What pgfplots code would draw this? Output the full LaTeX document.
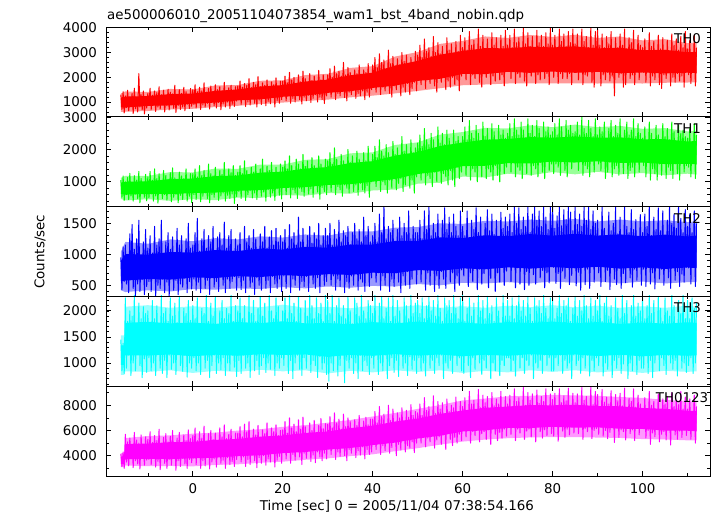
\documentclass[border=0pt]{standalone}
\usepackage{fontspec}
\setmainfont{DejaVu Sans}
\usepackage{pgfplots}
\usepackage{pgfplotstable}
\pgfplotsset{compat=1.18}
\definecolor{qr}{RGB}{255,0,0}
\definecolor{qg}{RGB}{0,255,0}
\definecolor{qb}{RGB}{0,0,255}
\definecolor{qc}{RGB}{0,255,255}
\definecolor{qm}{RGB}{255,0,255}
\newcommand{\lab}{\fontsize{13.4}{16}\selectfont}
\pgfplotsset{
 panel/.style={
  scale only axis, width=604pt,
  xmin=-19.3, xmax=115,
  xtick={0,20,...,100}, minor xtick={-10,10,...,110},
  tick align=inside, tick pos=both,
  major tick length=5pt, minor tick length=3pt,
  axis line style={line width=0.9pt, black},
  major tick style={black, line width=0.8pt},
  minor tick style={black, line width=0.6pt},
  tick label style={font=\lab},
  /pgf/number format/assume math mode=true,
  /pgf/number format/1000 sep={},
  scaled ticks=false,
  yticklabel style={xshift=-5.5pt},
  xticklabel style={yshift=-4.5pt},
  axis on top=true,
  clip=true,
 },
 zz/.style={line width=1.0pt, line join=round},
 halo/.style={fill=#1, fill opacity=0.4, draw=none, forget plot},
 core/.style={fill=#1, draw=none, forget plot},
}
\pgfplotstableread{
t a b c d e
-16 1300 1050 950 1450 4150
-15.75 700 520 430 850 3150
-15.5 1420 1180 1120 1380 4300
-15.25 560 420 560 800 3000
-15 1250 1000 1150 2250 5700
-14.75 780 600 520 900 3500
-14.5 1480 1130 1000 1800 5100
-14.25 650 450 380 1150 3200
-14 1200 1260 1330 2000 5400
-13.75 820 560 600 760 3750
-13.5 1350 980 1480 1900 4900
-13.25 540 400 450 1000 3050
-13 1560 1190 1080 2300 5850
-12.75 730 620 330 850 3600
-12.5 1180 1050 1250 1720 5250
-12.25 600 480 520 1200 3350
-12 2150 1320 1550 2150 5000
-11.75 800 350 400 950 2950
-11.5 1300 1100 960 1850 5650
-11.25 690 650 590 720 3850
-11 1450 960 1200 2080 4800
-10.75 520 520 350 1080 3250
-10.5 1220 1230 1400 1950 5500
-10.25 760 410 480 820 3650
-10 1350 1150 1100 2000 5300
-9.75 880 500 560 1100 3700
-9.5 1560 1320 1300 1750 5900
-9.25 700 620 400 850 3300
-9 1280 1050 1020 2200 5050
-8.75 930 400 620 1000 3850
-8.5 1450 1400 1450 1850 5600
-8.25 620 560 330 760 3100
-8 1380 1100 1150 2100 5200
-7.75 800 340 500 1200 3550
-7.5 1620 1250 1250 1700 6100
-7.25 720 680 450 900 2900
-7 1300 1000 1550 2300 4950
-6.75 900 480 600 800 3800
-6.5 1480 1350 980 1950 5450
-6.25 600 600 380 1050 3400
-6 1250 1200 1200 2050 5750
-5.75 850 430 550 720 3000
-5.5 1520 1080 1350 1800 5100
-5.25 680 650 320 1150 3700
-5 1400 1280 1080 2250 5550
-4.75 940 380 640 880 3250
-4.5 1330 1430 1280 1900 6000
-4.25 750 520 420 1000 3900
-4 1680 1120 1000 2150 5000
-3.75 580 610 580 780 2850
-3.5 1270 1020 1420 1780 5400
-3.25 860 350 350 1220 3600
-3 1500 1300 1150 2280 5850
-2.75 700 580 520 950 3150
-2.5 1350 1180 1300 1680 4900
-2.25 800 450 470 840 3800
-2 1600 1100 960 2050 5650
-1.75 650 680 610 1150 3350
-1.5 1420 1400 1250 1950 5200
-1.25 910 400 380 730 3000
-1 1300 1050 1500 2200 6050
-0.75 740 550 560 1000 3700
-0.5 1550 1250 1100 1820 5350
-0.25 830 360 440 900 3450
0 1500 1250 1150 2100 5600
0.25 900 600 600 1100 3800
0.5 1700 1400 1350 1850 6200
0.75 760 450 420 850 3300
1 1420 1150 1580 2250 5200
1.25 1000 700 550 1000 4000
1.5 1600 1500 1050 1750 5900
1.75 700 380 380 780 3000
2 1450 1200 1250 2050 5400
2.25 880 550 650 1200 3600
2.5 1780 1350 1400 1950 6350
2.75 800 650 450 900 3200
3 1400 1100 1100 2300 5100
3.25 950 480 580 1050 3900
3.5 1550 1550 1300 1800 5750
3.75 720 350 350 720 2950
4 1650 1250 1200 2150 6000
4.25 1050 600 620 950 3500
4.5 1380 1180 1450 1900 5300
4.75 850 520 470 1150 3750
5 1700 1450 1000 2280 5800
5.25 760 700 560 800 3100
5.5 1500 1100 1280 1700 5150
5.75 980 420 400 1000 4050
6 1620 1350 1350 2000 6200
6.25 690 560 680 870 3400
6.5 1450 1230 1150 2200 5500
6.75 920 650 500 1100 3650
7 1800 1600 1520 1850 6450
7.25 800 400 380 760 3000
7.5 1400 1150 1100 2050 5350
7.75 1000 580 600 1000 3850
8 1580 1400 1300 1950 5700
8.25 740 480 450 850 3300
8.5 1680 1280 1400 2300 6100
8.75 900 620 560 1150 3550
9 1480 1500 1050 1800 5050
9.25 820 330 640 920 3150
9.5 1620 1200 1250 2100 5800
9.75 1040 540 420 740 3700
10 1650 1300 1150 2000 5800
10.25 1100 700 620 1050 4100
10.5 1850 1500 1350 2250 6300
10.75 900 480 430 800 3500
11 1600 1250 1050 1850 5500
11.25 1150 780 580 1150 3900
11.5 1750 1650 1450 2100 6500
11.75 820 420 380 900 3150
12 1680 1350 1200 1750 5900
12.25 1000 600 680 1000 3700
12.5 1950 1200 1300 2300 6700
12.75 880 720 470 720 3300
13 1580 1450 1100 1950 5350
13.25 1200 500 550 1200 4200
13.5 1800 1300 1400 2200 6100
13.75 950 650 350 850 3600
14 1700 1550 1250 1800 5650
14.25 800 450 620 1050 3050
14.5 2030 1250 1050 2050 6400
14.75 1080 800 500 780 3850
15 1620 1400 1330 2280 5450
15.25 900 550 420 950 3400
15.5 1780 1700 1200 1900 6050
15.75 1150 680 700 1100 4000
16 1680 1220 1450 2150 5750
16.25 850 400 450 820 3250
16.5 1900 1480 1100 1700 6600
16.75 1020 750 580 1000 3750
17 1560 1350 1280 2300 5300
17.25 930 520 380 880 3500
17.5 1820 1600 1380 2000 6200
17.75 1180 650 640 1180 4250
18 1700 1280 1150 1850 5900
18.25 800 420 520 760 3100
18.5 1980 1450 1420 2250 6450
18.75 1050 780 450 1000 3650
19 1620 1200 1200 2080 5600
19.25 950 580 600 900 3950
19.5 1850 1550 1300 1780 6000
19.75 1100 470 400 1100 3400
20 1850 1450 1200 2000 6050
20.25 1250 850 650 950 4400
20.5 2050 1650 1400 2250 6700
20.75 1050 600 450 1200 3750
21 1780 1400 1100 1850 5800
21.25 1300 900 700 800 4300
21.5 2200 1800 1480 2300 7000
21.75 950 500 380 1050 3400
22 1900 1500 1250 1950 6200
22.25 1150 750 600 700 4100
22.5 2000 1350 1350 2150 6500
22.75 1000 650 500 1000 3650
23 1750 1700 1150 1800 5900
23.25 1350 480 660 1150 4500
23.5 2100 1550 1600 2280 6850
23.75 1100 800 420 880 3900
24 1820 1400 1200 2050 6100
24.25 920 700 560 760 3300
24.5 2250 1850 1420 1750 7050
24.75 1200 550 480 1100 4200
25 1950 1480 1100 2200 6300
25.25 1050 880 640 900 3800
25.5 1800 1650 1300 1900 5700
25.75 1280 620 400 1180 4450
26 2150 1380 1450 2300 6600
26.25 980 780 700 820 3550
26.5 1880 1750 1180 2100 6000
26.75 1150 520 520 1050 4050
27 2050 1500 1350 1850 6800
27.25 1300 900 450 950 3450
27.5 1780 1420 1250 2250 5850
27.75 1000 680 620 720 4300
28 2280 1800 1500 1950 6400
28.25 1200 460 380 1120 3900
28.5 1900 1550 1150 2150 6950
28.75 1100 820 680 880 3600
29 2100 1350 1300 1800 6150
29.25 940 700 500 1000 4200
29.5 1850 1700 1420 2300 6550
29.75 1250 600 560 780 3750
30 2100 1650 1300 2200 6500
30.25 1450 950 700 650 4600
30.5 2350 1900 1500 1950 7100
30.75 1200 700 500 1000 4100
31 2000 1550 1150 2300 6200
31.25 1500 1000 650 850 4800
31.5 2450 2050 1400 1800 7400
31.75 1100 600 420 1150 3700
32 2150 1700 1250 2100 6600
32.25 1350 850 600 750 4300
32.5 2250 1500 1550 2250 6900
32.75 1250 750 480 950 3950
33 2050 1850 1200 1900 6100
33.25 1550 550 720 1200 4700
33.5 2600 1650 1380 2100 7300
33.75 1180 900 380 620 4000
34 2100 1500 1300 1850 6300
34.25 1050 800 560 1050 3600
34.5 2400 2000 1450 2280 7000
34.75 1400 650 450 900 4500
35 2200 1600 1150 2000 6700
35.25 1300 1000 650 1100 4200
35.5 1980 1800 1350 1750 5950
35.75 1500 700 500 800 4850
36 2300 1550 1500 2250 6850
36.25 1150 900 740 1000 3850
36.5 2150 1950 1250 2150 6400
36.75 1350 580 420 700 4400
37 2500 1700 1400 1900 7200
37.25 1250 950 600 1150 4050
37.5 2050 1500 1200 2300 6200
37.75 1450 750 550 850 4700
38 2300 1900 1600 2000 6750
38.25 1100 650 400 1050 3750
38.5 2200 1650 1300 1850 7050
38.75 1400 880 700 950 4500
39 2550 2100 1450 2200 6450
39.25 1200 520 480 780 4100
39.5 2100 1600 1200 2100 6900
39.75 1500 1000 620 1100 4300
40 2500 1850 1300 1950 6900
40.25 1700 1100 750 900 5000
40.5 2800 2100 1500 2300 7500
40.75 1400 850 550 1200 4500
41 2400 1750 1200 1750 6600
41.25 1750 1200 700 780 5200
41.5 2950 2300 1650 2150 7900
41.75 1300 700 420 1000 4100
42 2600 1950 1350 2280 7100
42.25 1600 1000 650 850 4800
42.5 2700 1800 1800 1850 7300
42.75 1450 900 500 1150 4400
43 2350 2150 1250 2050 6500
43.25 1800 650 750 700 5300
43.5 3100 1900 1450 2250 8000
43.75 1350 1050 400 950 4200
44 2550 1700 1350 1800 6800
44.25 1200 800 600 1100 4650
44.5 2850 2250 1550 2300 7700
44.75 1650 1150 480 820 5100
45 2450 1850 1200 1900 6600
45.25 1500 750 700 1050 4000
45.5 2750 2050 1400 2200 7400
45.75 1700 950 550 740 4900
46 2500 1750 1600 2000 7000
46.25 1250 1100 380 1180 4450
46.5 3000 2400 1300 1700 7800
46.75 1600 700 650 900 5250
47 2650 1950 1500 2250 6750
47.25 1400 900 500 1000 4300
47.5 2900 2150 1350 2100 7600
47.75 1750 1200 720 760 4800
48 2450 1800 1700 1850 7050
48.25 1300 800 450 1120 4600
48.5 2800 2300 1250 2300 8050
48.75 1550 1050 600 880 5100
49 2600 1900 1450 1950 7200
49.25 1800 650 780 1050 4250
49.5 3050 2050 1350 2150 7500
49.75 1450 1150 520 800 5000
50 2900 2200 1350 2200 7400
50.25 2000 1350 750 1100 5600
50.5 3300 2450 1550 1950 8100
50.75 1700 1050 550 850 5000
51 2800 2100 1250 2250 7200
51.25 2100 1400 800 1000 5800
51.5 3550 2650 1700 1850 8600
51.75 1550 900 420 750 4700
52 3050 2300 1400 2100 7600
52.25 1900 1200 700 1150 5400
52.5 3200 2150 1800 2280 7900
52.75 1750 1100 500 900 5100
53 2850 2500 1300 2000 7150
53.25 2050 850 780 1050 5750
53.5 3650 2300 1500 2200 8750
53.75 1650 1300 400 800 4600
54 3000 2050 1350 1900 7350
54.25 1400 1000 650 1100 5250
54.5 3400 2700 1650 2300 8300
54.75 1950 1400 450 950 5500
55 2950 2200 1250 2050 7700
55.25 1800 950 720 1150 4900
55.5 3250 2500 1550 1800 8200
55.75 2100 1250 600 700 5650
56 2800 2150 1750 2250 7100
56.25 1500 1150 450 1000 4500
56.5 3600 2600 1400 2100 8500
56.75 1850 900 800 900 5800
57 3100 2350 1600 2200 7500
57.25 1600 1350 550 1050 5300
57.5 3350 2050 1350 1950 8000
57.75 2000 1050 700 800 4800
58 2950 2600 1650 2300 7800
58.25 1700 850 400 1150 5450
58.5 3450 2250 1450 2050 8650
58.75 1900 1450 650 950 5000
59 3050 2400 1300 1850 7300
59.25 1450 1100 500 1100 5700
59.5 3700 2200 1700 2250 8300
59.75 2050 1300 750 850 5200
60 3200 2400 1450 2300 7900
60.25 2250 1550 650 800 6100
60.5 3600 2700 1300 1800 8600
60.75 1900 1200 820 1150 5500
61 3100 2300 1700 2050 7600
61.25 2300 1600 480 950 6250
61.5 3850 2900 1250 2250 9100
61.75 1700 1050 700 720 5000
62 3300 2500 1550 1900 8100
62.25 2100 1400 560 1100 5900
62.5 3500 2350 1400 2150 8400
62.75 1950 1300 850 880 5600
63 3050 2750 1750 1750 7600
63.25 2250 1000 430 1200 6200
63.5 3950 2500 1350 2300 9250
63.75 1800 1500 760 1000 5100
64 3250 2250 1600 2000 7800
64.25 1600 1150 520 780 5750
64.5 3700 2850 1280 2200 8800
64.75 2150 1550 690 1050 5900
65 3150 2400 1500 1850 8200
65.25 2000 1100 840 900 5300
65.5 3550 2650 1720 2280 8700
65.75 2300 1400 460 1150 6050
66 3000 2300 1380 1950 7500
66.25 1700 1300 610 700 4900
66.5 3800 2800 1650 2100 9000
66.75 2050 1050 780 1000 6250
67 3300 2550 1320 1800 7950
67.25 1850 1500 400 850 5700
67.5 3600 2200 1550 2250 8500
67.75 2200 1200 700 1180 5200
68 3150 2750 1230 2000 8100
68.25 1900 1000 550 760 5850
68.5 3700 2450 1680 1700 9100
68.75 2100 1600 850 1050 5400
69 3250 2600 1420 2300 7700
69.25 1650 1250 500 950 6100
69.5 3900 2350 1600 1900 8700
69.75 2250 1450 730 1100 5550
70 3300 2500 1450 2200 8100
70.25 2300 1650 820 1100 6300
70.5 3700 2800 1650 1900 8800
70.75 1950 1300 560 850 5700
71 3200 2400 1350 2250 7900
71.25 2350 1700 860 1050 6400
71.5 3950 2950 1760 1850 9300
71.75 1750 1150 460 750 5200
72 3400 2600 1500 2100 8300
72.25 2150 1450 780 1150 6100
72.5 3600 2450 1750 2300 8600
72.75 2000 1350 520 900 5800
73 3150 2850 1400 2000 7800
73.25 2300 1100 840 1100 6400
73.5 4000 2600 1600 2200 9400
73.75 1850 1600 430 800 5300
74 3350 2350 1450 1900 8000
74.25 1650 1250 720 1050 5950
74.5 3800 2950 1770 2280 9000
74.75 2200 1650 500 950 6100
75 3250 2500 1350 2050 8400
75.25 2050 1200 800 1150 5500
75.5 3650 2750 1650 1800 8900
75.75 2350 1500 670 700 6250
76 3100 2400 1770 2250 7750
76.25 1750 1400 520 1000 5100
76.5 3900 2900 1550 2100 9200
76.75 2100 1150 860 900 6450
77 3400 2650 1700 2200 8150
77.25 1900 1600 620 1050 5900
77.5 3700 2300 1450 1950 8700
77.75 2250 1300 740 800 5400
78 3250 2850 1760 2300 8300
78.25 1950 1100 460 1150 6050
78.5 3800 2550 1600 2050 9300
78.75 2150 1700 700 950 5600
79 3350 2700 1400 1850 7900
79.25 1700 1350 540 1100 6300
79.5 4000 2450 1770 2250 8900
79.75 2300 1550 800 850 5750
80 3300 2550 1770 2250 8450
80.25 2000 1250 790 850 5550
80.5 3700 2800 1420 1850 8950
80.75 2400 1550 530 1100 6300
81 3100 2450 1620 2050 7800
81.25 1750 1450 690 950 5150
81.5 3950 2950 1770 2300 9300
81.75 2150 1200 450 1150 6500
82 3450 2700 1460 1950 8200
82.25 1950 1650 730 800 5950
82.5 3750 2350 1720 2200 8750
82.75 2200 1350 610 1050 5450
83 3250 2900 1560 2100 8350
83.25 1950 1150 850 900 6100
83.5 3850 2600 1770 2250 9350
83.75 2150 1750 510 1000 5650
84 3400 2750 1680 1800 7950
84.25 1700 1400 660 700 6350
84.5 3950 2500 1380 2050 8950
84.75 2300 1600 790 1150 5800
85 3350 2550 1770 2280 8200
85.25 2250 1700 490 950 6350
85.5 3750 2850 1480 1900 8900
85.75 1900 1350 710 1050 5750
86 3150 2450 1650 2200 7950
86.25 2350 1750 420 800 6450
86.5 3950 3000 1450 2000 9400
86.75 1700 1200 830 1100 5300
87 3450 2650 1770 2300 8400
87.25 2100 1500 510 900 6150
87.5 3650 2500 1550 2100 8700
87.75 2050 1400 760 1150 5900
88 3200 2900 1770 1850 7850
88.25 2300 1150 450 750 6400
88.5 4000 2650 1400 2250 9450
88.75 1800 1650 870 1050 5350
89 3300 2400 1700 1900 8050
89.25 1600 1300 550 850 6000
89.5 3850 2950 1500 2200 9100
89.75 2250 1700 800 1100 6150
90 3950 2450 1550 2000 8850
90.25 2250 1550 700 950 5700
90.5 3300 2700 1300 2300 7850
90.75 1650 1350 480 1150 6250
91 3750 2550 1770 1800 9250
91.25 2100 1700 820 750 5550
91.5 3200 2850 1420 2150 8250
91.75 1900 1100 560 1000 6000
92 3650 2300 1250 2280 8650
92.25 2200 1300 740 880 5350
92.5 3350 2650 1680 1900 8100
92.75 1850 1600 430 1200 5850
93 3850 2900 1380 2100 9150
93.25 2050 1150 860 720 6400
93.5 3050 2400 1500 1750 7700
93.75 1250 1400 600 1050 5050
94 3600 2750 1760 2250 8850
94.25 2300 1500 510 900 6200
94.5 3200 2500 1330 2050 8350
94.75 2000 1200 780 1100 5450
95 3750 2950 1600 1850 8950
95.25 2150 1650 450 800 6050
95.5 3300 2350 1270 2300 7950
95.75 1600 1250 690 980 5900
96 3950 2600 1770 1950 9350
96.25 1700 1600 540 1180 5250
96.5 3150 2850 1450 2200 7750
96.75 2250 1100 830 700 6300
97 3600 2450 1350 1700 8550
97.25 1950 1350 620 1000 5750
97.5 3400 2600 1720 2100 8300
97.75 2100 1450 470 850 6050
98 3900 2950 1400 2300 9300
98.25 1700 1150 760 1150 5200
98.5 3100 2400 1560 1900 7850
98.75 2300 1700 580 780 6350
99 3700 2800 1290 2150 8800
99.25 1900 1300 850 1050 5650
99.5 3300 2500 1640 2000 8100
99.75 2250 1650 500 900 6250
100 3200 2350 1350 2250 7700
100.25 2200 1500 760 900 6200
100.5 3550 2700 1650 1850 8600
100.75 1800 1150 480 1150 5400
101 3000 2250 1450 2100 7500
101.25 2300 1650 850 800 6000
101.5 3800 2850 1770 2300 9100
101.75 1650 1050 520 1050 4900
102 3250 2500 1300 1950 8000
102.25 2050 1400 700 720 5800
102.5 3450 2300 1600 2200 8300
102.75 1900 1250 440 1000 5500
103 3050 2750 1400 1750 7450
103.25 2250 1050 820 1200 6250
103.5 3700 2450 1750 2280 8900
103.75 1700 1550 600 850 5100
104 3150 2200 1380 2050 7650
104.25 1550 1200 760 1100 5700
104.5 3600 2800 1700 1800 8500
104.75 2100 1600 500 950 5900
105 3100 2400 1300 2250 8100
105.25 1950 1100 840 780 5250
105.5 3500 2650 1550 2000 8700
105.75 2200 1450 620 1150 6100
106 2950 2300 1770 1900 7500
106.25 1650 1350 450 1000 4850
106.5 3750 2850 1500 2300 9000
106.75 2000 1100 800 880 6150
107 3300 2550 1650 2100 7900
107.25 1800 1550 580 1050 5650
107.5 3550 2250 1420 1700 8400
107.75 2150 1250 720 750 5300
108 3100 2750 1770 2200 8050
108.25 1850 1050 480 1180 5950
108.5 3650 2500 1580 1950 9100
108.75 2050 1650 680 900 5450
109 3200 2600 1350 2300 7700
109.25 1600 1300 550 1000 6050
109.5 3850 2400 1720 1850 8650
109.75 2250 1500 790 820 5600
110 3150 2350 1450 2200 7700
110.25 2100 1450 780 950 6000
110.5 3500 2650 1650 1850 8500
110.75 1750 1150 520 1100 5300
111 3000 2250 1350 2250 7500
111.25 2250 1600 820 800 6100
111.5 3700 2800 1700 2050 8800
111.75 1650 1100 480 1000 5000
112 3200 2450 1500 2150 7900
}\lc
\begin{document}
\begin{tikzpicture}
\useasboundingbox (0,0) rectangle (717pt,516pt);
% TH0
\begin{axis}[panel, at={(106pt,488.7pt)}, anchor=north west, height=89.4pt,
  ymin=410, ymax=4020, ytick={1000,2000,3000,4000}, minor ytick={400,600,...,4000}, xticklabels={}]
\addplot[halo=qr] coordinates {(-16,1350) (-15,1430) (-10,1410) (-5,1530) (0,1510) (5,1670) (10,1690) (15,1860) (20,1880) (25,2090) (30,2140) (35,2380) (40,2450) (45,2840) (50,3020) (55,3350) (60,3470) (65,3650) (70,3590) (75,3710) (80,3630) (85,3720) (90,3590) (95,3650) (100,3490) (105,3540) (110,3380) (112,3400) (112,1800) (110,1790) (105,1780) (100,1750) (95,1760) (90,1750) (85,1760) (80,1760) (75,1760) (70,1750) (65,1710) (60,1680) (55,1560) (50,1450) (45,1350) (40,1260) (35,1190) (30,1100) (25,1040) (20,980) (15,920) (10,850) (5,800) (0,730) (-5,700) (-10,640) (-15,610) (-16,600)};
\addplot[core=qr] coordinates {(-16,1175) (-15,1223) (-10,1243) (-5,1323) (0,1343) (5,1451) (10,1509) (15,1627) (20,1685) (25,1831) (30,1907) (35,2082) (40,2188) (45,2476) (50,2665) (55,2918) (60,3062) (65,3180) (70,3169) (75,3238) (80,3207) (85,3248) (90,3170) (95,3192) (100,3095) (105,3110) (110,3014) (112,3025) (112,2175) (110,2186) (105,2160) (100,2195) (95,2168) (90,2220) (85,2182) (80,2233) (75,2182) (70,2221) (65,2130) (60,2138) (55,1942) (50,1855) (45,1664) (40,1572) (35,1438) (30,1373) (25,1259) (20,1215) (15,1113) (10,1071) (5,979) (0,937) (-5,867) (-10,847) (-15,777) (-16,785)};
\addplot[qr, zz] table[x=t, y=a] {\lc};
\node[anchor=base west, inner sep=0pt, font=\lab] at (rel axis cs:0.9404,0.821) {TH0};
\end{axis}
% TH1
\begin{axis}[panel, at={(106pt,399.3pt)}, anchor=north west, height=90pt,
  ymin=228, ymax=3015, ytick={1000,2000,3000}, minor ytick={400,600,...,3000}, xticklabels={}]
\addplot[halo=qg] coordinates {(-16,1120) (-15,1180) (-10,1180) (-5,1300) (0,1290) (5,1410) (10,1400) (15,1530) (20,1530) (25,1680) (30,1700) (35,1880) (40,1910) (45,2140) (50,2220) (55,2460) (60,2540) (65,2670) (70,2650) (75,2750) (80,2690) (85,2770) (90,2690) (95,2730) (100,2640) (105,2660) (110,2560) (112,2580) (112,1220) (110,1250) (105,1200) (100,1270) (95,1230) (90,1310) (85,1230) (80,1300) (75,1200) (70,1250) (65,1130) (60,1160) (55,970) (50,940) (45,760) (40,730) (35,630) (30,650) (25,570) (20,590) (15,500) (10,510) (5,430) (0,460) (-5,410) (-10,460) (-15,420) (-16,470)};
\addplot[core=qg] coordinates {(-16,970) (-15,998) (-10,1015) (-5,1081) (0,1098) (5,1176) (10,1194) (15,1283) (20,1312) (25,1408) (30,1455) (35,1581) (40,1637) (45,1813) (50,1920) (55,2107) (60,2215) (65,2304) (70,2324) (75,2384) (80,2364) (85,2404) (90,2365) (95,2375) (100,2316) (105,2318) (110,2249) (112,2260) (112,1540) (110,1556) (105,1547) (100,1594) (95,1585) (90,1635) (85,1596) (80,1626) (75,1566) (70,1576) (65,1496) (60,1485) (55,1323) (50,1240) (45,1087) (40,1003) (35,924) (30,900) (25,832) (20,808) (15,742) (10,721) (5,664) (0,652) (-5,619) (-10,625) (-15,602) (-16,620)};
\addplot[qg, zz] table[x=t, y=b] {\lc};
\node[anchor=base west, inner sep=0pt, font=\lab] at (rel axis cs:0.9404,0.816) {TH1};
\end{axis}
% TH2
\begin{axis}[panel, at={(106pt,309.3pt)}, anchor=north west, height=89.3pt,
  ymin=327, ymax=1768, ytick={500,1000,1500}, minor ytick={400,500,...,1700}, xticklabels={}]
\addplot[halo=qb] coordinates {(-16,1040) (-15,1200) (-10,1170) (-5,1240) (0,1210) (5,1260) (10,1240) (15,1290) (20,1270) (25,1320) (30,1300) (35,1370) (40,1370) (45,1430) (50,1440) (55,1500) (60,1490) (65,1540) (70,1530) (75,1560) (80,1540) (85,1570) (90,1530) (95,1560) (100,1530) (105,1550) (110,1520) (112,1530) (112,550) (110,550) (105,530) (100,560) (95,530) (90,560) (85,540) (80,560) (75,530) (70,550) (65,530) (60,540) (55,500) (50,520) (45,480) (40,490) (35,460) (30,480) (25,450) (20,470) (15,440) (10,450) (5,430) (0,440) (-5,400) (-10,420) (-15,390) (-16,420)};
\addplot[core=qb] coordinates {(-16,892) (-15,1005) (-10,994) (-5,1038) (0,1028) (5,1068) (10,1052) (15,1092) (20,1076) (25,1121) (30,1105) (35,1158) (40,1157) (45,1216) (50,1214) (55,1273) (60,1262) (65,1307) (70,1291) (75,1326) (80,1301) (85,1331) (90,1301) (95,1321) (100,1291) (105,1317) (110,1287) (112,1302) (112,778) (110,788) (105,763) (100,789) (95,769) (90,799) (85,774) (80,794) (75,769) (70,789) (65,758) (60,773) (55,732) (50,746) (45,694) (40,703) (35,667) (30,680) (25,649) (20,664) (15,633) (10,648) (5,617) (0,627) (-5,592) (-10,601) (-15,575) (-16,568)};
\addplot[qb, zz] table[x=t, y=c] {\lc};
\node[anchor=base west, inner sep=0pt, font=\lab] at (rel axis cs:0.9404,0.814) {TH2};
\end{axis}
% TH3
\begin{axis}[panel, at={(106pt,220pt)}, anchor=north west, height=90.3pt,
  ymin=553, ymax=2286, ytick={1000,1500,2000}, minor ytick={600,700,...,2200}, xticklabels={}]
\addplot[halo=qc] coordinates {(-16,1530) (-15.25,1530) (-15,2080) (-10,2110) (-5,2060) (0,2090) (5,2060) (10,2100) (15,2070) (20,2120) (25,2060) (30,2080) (35,2050) (40,2100) (45,2070) (50,2110) (55,2060) (60,2090) (65,2060) (70,2100) (75,2070) (80,2110) (85,2070) (90,2100) (95,2060) (100,2090) (105,2060) (110,2100) (112,2080) (112,840) (110,830) (105,850) (100,810) (95,850) (90,820) (85,860) (80,830) (75,860) (70,820) (65,850) (60,810) (55,860) (50,830) (45,860) (40,820) (35,850) (30,800) (25,860) (20,840) (15,870) (10,830) (5,850) (0,810) (-5,860) (-10,830) (-15,840) (-15.25,770) (-16,770)};
\addplot[core=qc] coordinates {(-16,1338) (-15.25,1338) (-15,1771) (-10,1791) (-5,1761) (0,1776) (5,1751) (10,1786) (15,1766) (20,1801) (25,1761) (30,1766) (35,1746) (40,1786) (45,1761) (50,1796) (55,1756) (60,1776) (65,1751) (70,1786) (75,1766) (80,1796) (85,1761) (90,1786) (95,1751) (100,1776) (105,1756) (110,1781) (112,1771) (112,1149) (110,1139) (105,1154) (100,1129) (95,1159) (90,1134) (85,1164) (80,1149) (75,1169) (70,1139) (65,1159) (60,1129) (55,1164) (50,1144) (45,1169) (40,1139) (35,1154) (30,1119) (25,1164) (20,1154) (15,1169) (10,1139) (5,1159) (0,1129) (-5,1164) (-10,1144) (-15,1149) (-15.25,962) (-16,962)};
\addplot[qc, zz] table[x=t, y=d] {\lc};
\node[anchor=base west, inner sep=0pt, font=\lab] at (rel axis cs:0.9404,0.815) {TH3};
\end{axis}
% TH0123
\begin{axis}[panel, at={(106pt,129.7pt)}, anchor=north west, height=89.7pt,
  ymin=2395, ymax=9500, ytick={4000,6000,8000}, minor ytick={3000,4000,...,9000},
  xlabel={Time [sec] 0 = 2005/11/04 07:38:54.166},
  xlabel style={at={(axis description cs:0.4818,0)}, anchor=base, yshift=-34pt, font=\lab, inner sep=0pt}]
\addplot[halo=qm] coordinates {(-16,4200) (-15.25,4200) (-15,5400) (-10,5560) (-5,5610) (0,5750) (5,5830) (10,5990) (15,6100) (20,6290) (25,6420) (30,6620) (35,6830) (40,7110) (45,7390) (50,7710) (55,8020) (60,8380) (65,8530) (70,8710) (75,8750) (80,8820) (85,8780) (90,8750) (95,8650) (100,8580) (105,8420) (110,8320) (112,8280) (112,5220) (110,5220) (105,5290) (100,5320) (95,5410) (90,5440) (85,5480) (80,5480) (75,5450) (70,5390) (65,5280) (60,5120) (55,4880) (50,4600) (45,4360) (40,4110) (35,3970) (30,3790) (25,3680) (20,3530) (15,3440) (10,3320) (5,3270) (0,3160) (-5,3190) (-10,3170) (-15,3230) (-15.25,3100) (-16,3100)};
\addplot[core=qm] coordinates {(-16,3935) (-15.25,3935) (-15,4920) (-10,4962) (-5,5076) (0,5100) (5,5257) (10,5325) (15,5512) (20,5600) (25,5807) (30,5915) (35,6190) (40,6365) (45,6711) (50,6938) (55,7314) (60,7580) (65,7798) (70,7896) (75,8005) (80,7995) (85,8036) (90,7937) (95,7918) (100,7780) (105,7715) (110,7559) (112,7560) (112,5940) (110,5981) (105,5995) (100,6120) (95,6142) (90,6253) (85,6224) (80,6295) (75,6195) (70,6204) (65,6012) (60,5920) (55,5586) (50,5362) (45,5039) (40,4845) (35,4610) (30,4485) (25,4293) (20,4210) (15,4038) (10,3975) (5,3843) (0,3800) (-5,3734) (-10,3758) (-15,3720) (-15.25,3365) (-16,3365)};
\addplot[qm, zz] table[x=t, y=e] {\lc};
\node[anchor=base west, inner sep=0pt, font=\lab] at (rel axis cs:0.910,0.822) {TH0123};
\end{axis}
\node[anchor=base west, inner sep=0pt, font=\lab] at (107pt,496.7pt) {ae500006010\_20051104073854\_wam1\_bst\_4band\_nobin.qdp};
\node[rotate=90, inner sep=0pt, font=\lab] at (40pt,264.3pt) {Counts/sec};
\end{tikzpicture}
\end{document}
